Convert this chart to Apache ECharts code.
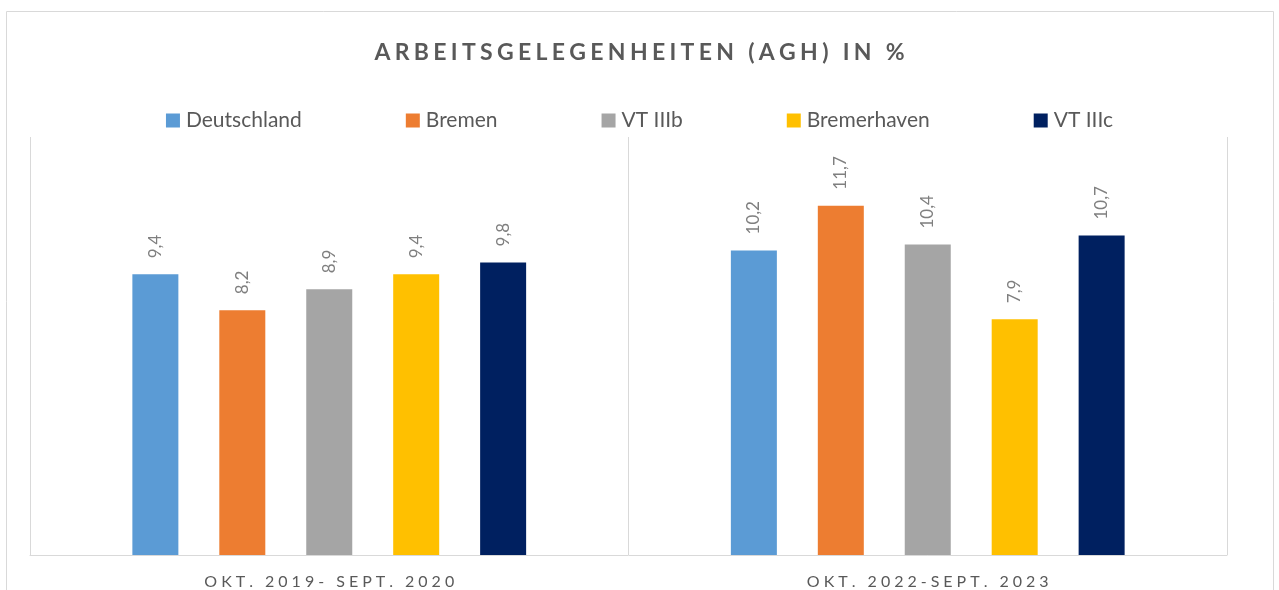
<!DOCTYPE html>
<html>
<head>
<meta charset="utf-8">
<script src="https://cdn.jsdelivr.net/npm/echarts@6/dist/echarts.min.js"></script>
<style>
html, body { margin: 0; padding: 0; background: #fff; }
#chart { width: 1279px; height: 590px; }
</style>
</head>
<body>
<div id="chart"></div>
<script>
// Daten
var categories = ['OKT. 2019- SEPT. 2020', 'OKT. 2022-SEPT. 2023'];
var seriesNames = ['Deutschland', 'Bremen', 'VT IIIb', 'Bremerhaven', 'VT IIIc'];
var deutschland = [9.4, 10.2];
var bremen = [8.2, 11.7];
var vtIIIb = [8.9, 10.4];
var bremerhaven = [9.4, 7.9];
var vtIIIc = [9.8, 10.7];
var colors = ['#5b9bd5', '#ed7d31', '#a5a5a5', '#ffc000', '#002060'];

// Buchstaben sperren (kein letterSpacing in zrender)
function spaced(s, sep) {
    return s.split('').join(sep);
}

var chart = echarts.init(document.getElementById('chart'));
var values = [deutschland, bremen, vtIIIb, bremerhaven, vtIIIc];
var series = [];
seriesNames.forEach(function (name, i) {
    series.push({
        name: name,
        type: 'bar',
        data: values[i],
        barWidth: 46,
        barGap: '89%',
        itemStyle: { color: colors[i] },
        label: {
            show: true,
            position: 'top',
            rotate: 90,
            align: 'left',
            verticalAlign: 'middle',
            distance: 16,
            color: '#7f7f7f',
            fontSize: 17,
            fontFamily: 'Lato',
            formatter: function (p) {
                return String(p.value).replace('.', ',');
            }
        }
    });
});

var option = {
    animation: false,
    graphic: [{
        type: 'rect',
        shape: { x: 6.5, y: 11.5, width: 1267, height: 620 },
        style: { fill: 'none', stroke: '#d9d9d9', lineWidth: 1 },
        silent: true
    }],
    title: {
        text: spaced('ARBEITSGELEGENHEITEN (AGH) IN %', '\u2009\u200a'),
        left: 'center',
        top: 36,
        textStyle: {
            color: '#595959',
            fontSize: 23,
            fontWeight: 'bold',
            fontFamily: 'Lato'
        }
    },
    legend: {
        data: seriesNames,
        top: 105,
        left: 'center',
        itemWidth: 14,
        itemHeight: 14,
        itemGap: 104,
        icon: 'rect',
        textStyle: {
            color: '#595959',
            fontSize: 21,
            fontFamily: 'Lato',
            padding: [0, 0, 0, 1]
        }
    },
    grid: {
        left: 30,
        right: 52,
        top: 137,
        bottom: 34
    },
    xAxis: {
        type: 'category',
        data: categories,
        axisTick: { show: false },
        axisLine: { lineStyle: { color: '#d9d9d9', width: 1 } },
        splitLine: { show: true, lineStyle: { color: '#d9d9d9', width: 1 } },
        axisLabel: {
            color: '#595959',
            fontSize: 16,
            fontFamily: 'Lato',
            margin: 19,
            formatter: function (v) { return spaced(v, '\u2009\u2009'); }
        }
    },
    yAxis: {
        type: 'value',
        min: 0,
        max: 14,
        show: false,
        splitLine: { show: false }
    },
    series: series
};
chart.setOption(option);
</script>
</body>
</html>
